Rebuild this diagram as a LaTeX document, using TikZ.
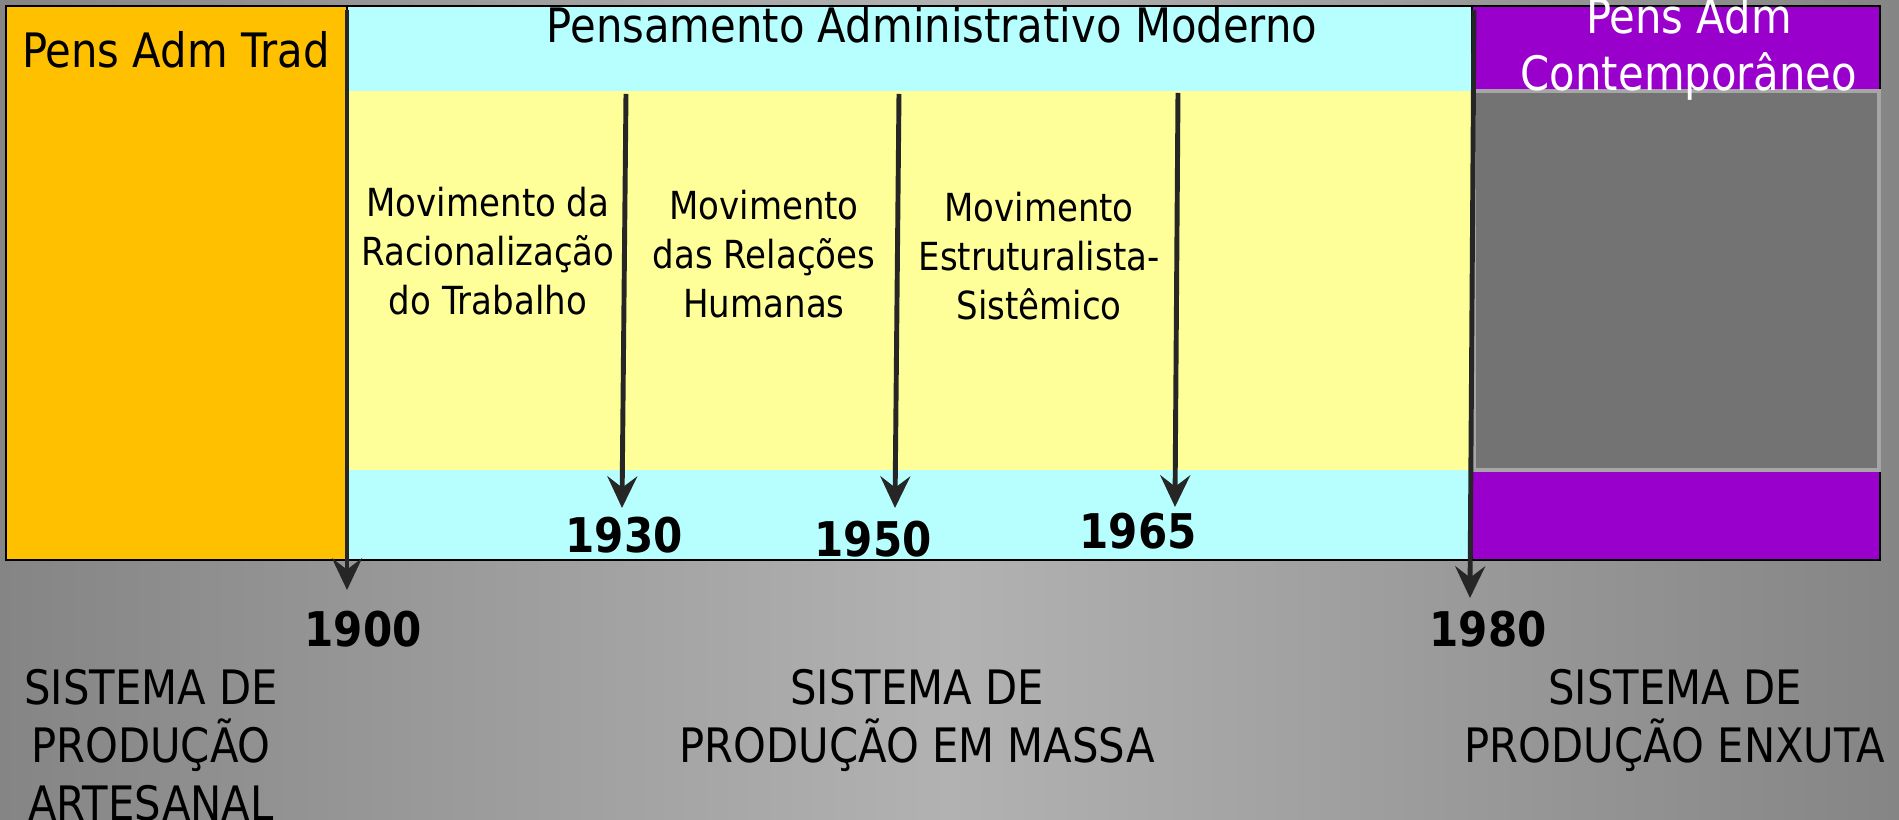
\documentclass[tikz,border=0pt]{standalone}
\usepackage{fontspec}
\setmainfont{DejaVu Sans}[FakeStretch=0.88]
\usetikzlibrary{arrows.meta}
\definecolor{bgedge}{HTML}{858585}
\definecolor{bgmid}{HTML}{B2B2B2}
\definecolor{tradorange}{HTML}{FFC000}
\definecolor{modcyan}{HTML}{B7FFFF}
\definecolor{modyellow}{HTML}{FFFF99}
\definecolor{contpurple}{HTML}{9900CC}
\definecolor{contgrey}{HTML}{737373}
\definecolor{contborder}{HTML}{A6A6A6}
\definecolor{arrowdark}{HTML}{262626}

\begin{document}
\begin{tikzpicture}[x=0.1mm, y=-0.1mm,
    bigtext/.style={inner sep=0pt, align=center, font=\fontsize{13.5}{16.5}\selectfont},
    medtext/.style={inner sep=0pt, align=center, font=\fontsize{11}{14}\selectfont},
    yeartext/.style={inner sep=0pt, font=\fontsize{13.6}{16}\selectfont\bfseries},
    timearrow/.style={draw=arrowdark, line width=1.4pt, -{Stealth[length=9pt, width=8.5pt, inset=3.2pt]}}]
      \useasboundingbox (0,0) rectangle (1899,820);
      \shade[left color=bgedge, right color=bgedge, middle color=bgmid] (0,0) rectangle (1899,820);

      \draw[fill=tradorange, line width=0.6pt] (6,6) rectangle (347,560);
      \draw[fill=modcyan, line width=0.6pt] (347,6) rectangle (1472,560);
      \fill[modyellow] (349,91) rectangle (1471,470);
      \draw[fill=contpurple, line width=0.6pt] (1472,6) rectangle (1880,560);
      \draw[fill=contgrey, draw=contborder, line width=1.4pt] (1474,91) rectangle (1879,470);

      \coordinate (a1900) at (347,10);   \coordinate (e1900) at (347,590);
      \coordinate (a1930) at (626,94);   \coordinate (e1930) at (622,508);
      \coordinate (a1950) at (899,94);   \coordinate (e1950) at (895,508);
      \coordinate (a1965) at (1178,93);  \coordinate (e1965) at (1175,507);
      \coordinate (a1980) at (1474,10);  \coordinate (e1980) at (1470,598);

      \draw[timearrow] (a1900) -- (e1900);
      \draw[timearrow] (a1930) -- (e1930);
      \draw[timearrow] (a1950) -- (e1950);
      \draw[timearrow] (a1965) -- (e1965);
      \draw[timearrow] (a1980) -- (e1980);

      \node[yeartext] (y1900) at (363,629) {1900};
      \node[yeartext] (y1930) at (624,535) {1930};
      \node[yeartext] (y1950) at (873,539) {1950};
      \node[yeartext] (y1965) at (1138,531) {1965};
      \node[yeartext] (y1980) at (1488,629) {1980};

      \node[bigtext] (trad) at (176,50) {Pens Adm Trad};
      \node[bigtext] (moderno) at (932,25) {Pensamento Administrativo Moderno};
      \node[bigtext, text=white, font=\fontsize{13.5}{16.2}\selectfont] (contemp) at (1689,49) {Pens Adm\\Contemporâneo};

      \node[medtext] (racional) at (488,251) {Movimento da\\Racionalização\\do Trabalho};
      \node[medtext] (relacoes) at (764,254) {Movimento\\das Relações\\Humanas};
      \node[medtext] (estrut) at (1039,256) {Movimento\\Estruturalista-\\Sistêmico};

      \node[bigtext] (artesanal) at (151,745) {SISTEMA DE\\PRODUÇÃO\\ARTESANAL};
      \node[bigtext] (massa) at (917,720) {SISTEMA DE\\PRODUÇÃO EM MASSA};
      \node[bigtext] (enxuta) at (1675,720) {SISTEMA DE\\PRODUÇÃO ENXUTA};
\end{tikzpicture}
\end{document}
